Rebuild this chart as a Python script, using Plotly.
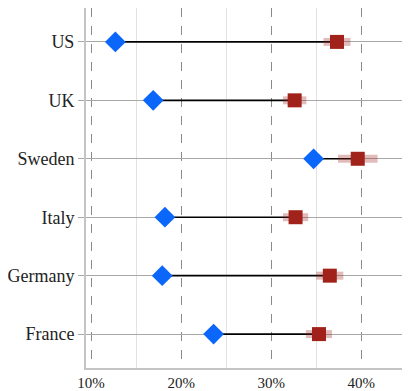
import plotly.graph_objects as go

# %%
countries = ["France", "Germany", "Italy", "Sweden", "UK", "US"]
baseline = [23.6, 17.9, 18.2, 34.7, 16.9, 12.7]
estimate = [35.3, 36.5, 32.7, 39.6, 32.6, 37.3]
half_width = [1.45, 1.5, 1.4, 2.2, 1.3, 1.5]
x_ticks = [10, 20, 30, 40]
x_labels = ["10%", "20%", "30%", "40%"]

# %%
seg_x, seg_y, band_x, band_y = [], [], [], []
for c, b, e, h in zip(countries, baseline, estimate, half_width):
    seg_x += [b, e, None]
    seg_y += [c, c, None]
    band_x += [e - h, e + h, None]
    band_y += [c, c, None]

fig = go.Figure()
fig.add_trace(go.Scatter(x=seg_x, y=seg_y, mode="lines", line=dict(color="black", width=1.6),
                         hoverinfo="skip", showlegend=False))
fig.add_trace(go.Scatter(x=band_x, y=band_y, mode="lines", line=dict(color="rgba(160,34,26,0.3)", width=8),
                         hoverinfo="skip", showlegend=False))
fig.add_trace(go.Scatter(x=baseline, y=countries, mode="markers", name="Baseline",
                         marker=dict(symbol="diamond", size=16, color="#0B66FA"), showlegend=False))
fig.add_trace(go.Scatter(x=estimate, y=countries, mode="markers", name="Estimate",
                         marker=dict(symbol="square", size=14, color="#A0221A"), showlegend=False))

fig.update_xaxes(range=[9.44, 45.4], tickvals=x_ticks, ticktext=x_labels,
                 tickfont=dict(size=15),
                 showgrid=True, gridcolor="#8a8a8a", gridwidth=1, griddash="dash",
                 minor=dict(tick0=5, dtick=10, showgrid=True, gridcolor="#e2e2e2", gridwidth=1,
                            griddash="solid"),
                 showline=True, linecolor="#c4c4c4", linewidth=2, zeroline=False, ticks="")
fig.update_yaxes(range=[-0.58, 5.58], categoryorder="array", categoryarray=countries,
                 tickfont=dict(size=18),
                 showgrid=True, gridcolor="#a8a8a8", gridwidth=1,
                 showline=True, linecolor="#c4c4c4", linewidth=2, zeroline=False,
                 ticks="outside", ticklen=6, tickcolor="#a8a8a8")
# page body keeps an 8px margin, so the figure is 8px smaller and margins shifted
fig.update_layout(width=402, height=383, template=None,
                  margin=dict(l=78, r=0, t=0, b=23),
                  plot_bgcolor="white", paper_bgcolor="white",
                  font=dict(family="Liberation Serif", color="#222"))

fig.write_html("out.html")
